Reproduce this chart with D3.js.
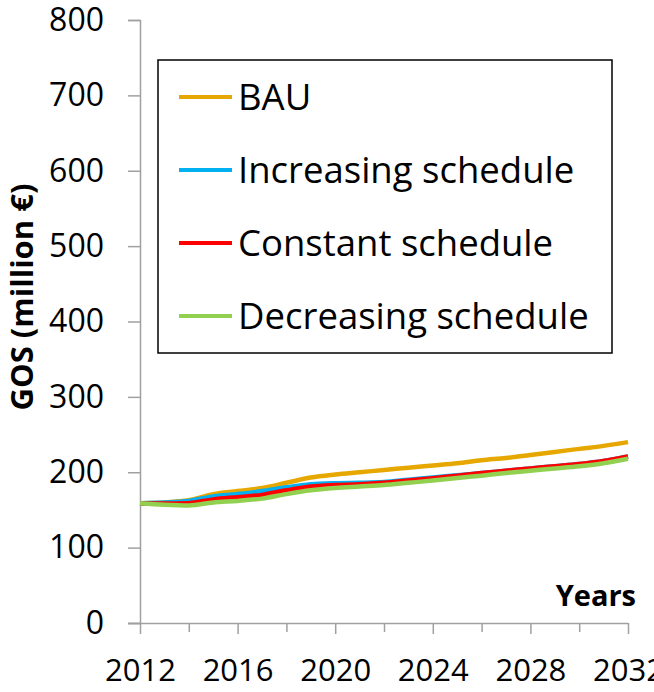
<!DOCTYPE html>
<html>
<head>
<meta charset="utf-8">
<script src="https://cdn.jsdelivr.net/npm/d3@7"></script>
<style>
  body { margin: 0; background: #fff; }
  text { font-family: "Open Sans", sans-serif; fill: #000; }
</style>
</head>
<body>
<div id="chart"></div>
<script>
// data
var years = d3.range(2012, 2033);
var bau        = [159,160,163,171,175,179,186,193,197,200,203,206,209,212,216,219,223,227,231,235,240];
var increasing = [159,160,162,168,171,175,180,184,185.5,186,187,190,193,196,199,202,205,208,211,215,221];
var constant   = [159,158.5,159,164,167,170,176,181,183,184,186,189,192,195.5,199,202,205,208,211,215,221];
var decreasing = [159,157,156,160,162,165,171,176,179,181,183,186,189,192.5,195.5,199,202,205,208,212,218];
var seriesNames = ["BAU", "Increasing schedule", "Constant schedule", "Decreasing schedule"];
var seriesColors = ["#E6A800", "#00B0F0", "#FF0000", "#92D050"];
var yTicks = [0,100,200,300,400,500,600,700,800];
var xLabels = [2012,2016,2020,2024,2028,2032];

var width = 654, height = 692;

var svg = d3.select("#chart").append("svg")
    .attr("width", width)
    .attr("height", height);

var x = d3.scaleLinear().domain([2012, 2032]).range([140, 628]);
var y = d3.scaleLinear().domain([0, 800]).range([623, 20]);

var axisColor = "#a0a0a0";

// y axis
var yAxis = svg.append("g")
    .attr("transform", "translate(140,0)")
    .call(d3.axisLeft(y).tickValues(yTicks).tickSize(12).tickPadding(24));
yAxis.select(".domain").attr("stroke", axisColor).attr("stroke-width", 1.5);
yAxis.selectAll(".tick line").attr("stroke", axisColor).attr("stroke-width", 1.5);
yAxis.selectAll(".tick text")
    .style("font-size", "32px")
    .attr("font-family", null);

// x axis
var xAxis = svg.append("g")
    .attr("transform", "translate(0,623)")
    .call(d3.axisBottom(x).tickValues(d3.range(2012, 2033, 2)).tickSize(11).tickSizeOuter(0)
        .tickFormat(function(d) { return xLabels.indexOf(d) >= 0 ? d : ""; }).tickPadding(25));
xAxis.select(".domain").attr("stroke", axisColor).attr("stroke-width", 1.5)
    .attr("d", "M" + (128) + ",0.5H" + x(2032));
xAxis.selectAll(".tick line").attr("stroke", axisColor).attr("stroke-width", 1.5)
    .attr("y2", function(d) { return xLabels.indexOf(d) >= 0 ? 11 : 9; });
xAxis.selectAll(".tick text")
    .style("font-size", "31px")
    .attr("font-family", null);

// lines
var allSeries = [bau, increasing, constant, decreasing];
var line = d3.line()
    .x(function(d, i) { return x(years[i]); })
    .y(function(d) { return y(d); })
    .curve(d3.curveMonotoneX);

svg.selectAll(".series")
    .data(allSeries)
  .enter().append("path")
    .attr("class", "series")
    .attr("fill", "none")
    .attr("stroke", function(d, i) { return seriesColors[i]; })
    .attr("stroke-width", 4.5)
    .attr("stroke-linejoin", "round")
    .attr("d", line);

// axis titles
svg.append("text")
    .attr("transform", "translate(33,297) rotate(-90)")
    .attr("text-anchor", "middle")
    .style("font-size", "31px")
    .style("font-weight", "bold")
    .text("GOS (million €)");

svg.append("text")
    .attr("x", 636)
    .attr("y", 606)
    .attr("text-anchor", "end")
    .style("font-size", "29px")
    .style("font-weight", "bold")
    .text("Years");

// legend
var legend = svg.append("g");
legend.append("rect")
    .attr("x", 158).attr("y", 60)
    .attr("width", 454).attr("height", 293)
    .attr("fill", "#fff")
    .attr("stroke", "#000")
    .attr("stroke-width", 1.5);

var items = legend.selectAll(".item")
    .data(seriesNames)
  .enter().append("g")
    .attr("class", "item")
    .attr("transform", function(d, i) { return "translate(0," + (97 + i * 73) + ")"; });
items.append("line")
    .attr("x1", 179).attr("x2", 232)
    .attr("stroke", function(d, i) { return seriesColors[i]; })
    .attr("stroke-width", 4);
items.append("text")
    .attr("x", 238)
    .attr("y", 13)
    .style("font-size", "36.5px")
    .text(function(d) { return d; });
</script>
</body>
</html>
